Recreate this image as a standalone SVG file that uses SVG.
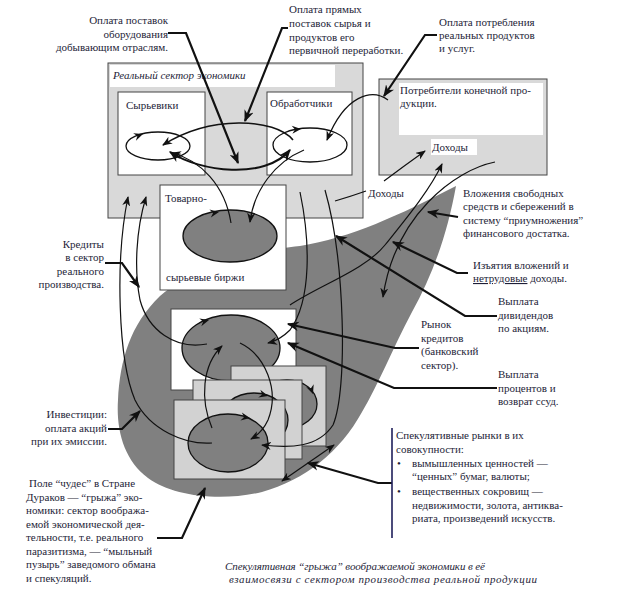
<svg xmlns="http://www.w3.org/2000/svg" width="620" height="594" viewBox="0 0 620 594">
<style>
text{font-family:"Liberation Serif","Times New Roman",serif;font-size:11px;fill:#1e1e38}
.it{font-style:italic}
.box{stroke:#444;stroke-width:1}
.lg{fill:#d9d9d9}
.wh{fill:#fff}
.st{fill:#d2d2d2}
.el{fill:#808080;stroke:#111;stroke-width:1.3}
.elw{fill:#fff;stroke:#111;stroke-width:1.3}
.fl{fill:none;stroke:#111;stroke-width:1.2}
.th{fill:none;stroke:#111;stroke-width:2}
.pt{fill:none;stroke:#111;stroke-width:2.2}
</style>
<defs>
<marker id="a" viewBox="0 0 10 8" refX="9" refY="4" markerWidth="10" markerHeight="8" markerUnits="userSpaceOnUse" orient="auto-start-reverse">
<path d="M0,0 L10,4 L0,8 L3,4 Z" fill="#111"/>
</marker>
<marker id="ab" viewBox="0 0 10 8" refX="9" refY="4" markerWidth="12" markerHeight="10" markerUnits="userSpaceOnUse" orient="auto-start-reverse">
<path d="M0,0 L10,4 L0,8 L3,4 Z" fill="#111"/>
</marker>
<path id="ah" d="M0,0 L-9,-4 L-6,0 L-9,4 Z" fill="#111"/>
</defs>

<g id="hernia">
<path d="M456,186 C447,236 432,276 412,312 C392,350 378,385 362,412 C340,452 305,480 262,492 C220,502 172,496 148,478 C124,460 116,430 118,400 C120,360 130,325 160,296 C200,262 260,250 300,246 C350,238 400,215 456,186 Z" fill="#808080"/>
</g>

<g id="real-sector">
<rect class="box lg" x="108" y="63" width="255" height="155"/>
<rect class="wh" x="110" y="65" width="225" height="22"/>
<text class="it" x="113" y="79">Реальный сектор экономики</text>
</g>

<g id="raw">
<rect class="box wh" x="118" y="92" width="87" height="83"/>
<text x="126" y="109">Сырьевики</text>
<ellipse class="elw" cx="158" cy="146" rx="32" ry="14"/>
<use href="#ah" transform="translate(143,134) rotate(-20)"/>
</g>

<g id="processors">
<rect class="box wh" x="267" y="92" width="85" height="83"/>
<text x="270" y="107">Обработчики</text>
<ellipse class="elw" cx="310" cy="145" rx="37" ry="17"/>
<use href="#ah" transform="translate(301,129) rotate(-5)"/>
</g>

<g id="consumers">
<rect class="box lg" x="379" y="79" width="168" height="96"/>
<rect class="wh" x="399" y="83" width="144" height="52"/>
<text x="400" y="94">Потребители конечной про-</text>
<text x="400" y="107">дукции.</text>
<rect class="wh" x="431" y="139" width="46" height="16"/>
<text x="432" y="151">Доходы</text>
</g>

<g id="exchange">
<rect class="box wh" x="160" y="185" width="126" height="105"/>
<text x="165" y="202">Товарно-</text>
<text x="166" y="281">сырьевые биржи</text>
<ellipse class="el" cx="230" cy="236" rx="47" ry="26"/>
<use href="#ah" transform="translate(219,212) rotate(-10)"/>
</g>

<g id="credit-market">
<rect class="box wh" x="171" y="309" width="125" height="81"/>
<ellipse class="el" cx="231" cy="348" rx="49" ry="33"/>
<use href="#ah" transform="translate(209,320) rotate(-15)"/>
</g>

<g id="speculative-stack">
<rect class="box st" x="231" y="366" width="95" height="80"/>
<ellipse class="el" cx="287" cy="404" rx="30" ry="24"/>
<use href="#ah" transform="translate(313,394) rotate(70)"/>
<rect class="box st" x="193" y="380" width="109" height="79"/>
<ellipse class="el" cx="254" cy="420" rx="34" ry="27"/>
<use href="#ah" transform="translate(268,396) rotate(15)"/>
<rect class="box st" x="174" y="400" width="111" height="79"/>
<ellipse class="el" cx="228" cy="443" rx="40" ry="29"/>
<use href="#ah" transform="translate(250,418) rotate(10)"/>
</g>

<g id="connectors">
<path class="fl" style="stroke-width:1.6" d="M293,140 C275,118 210,115 163,145" marker-end="url(#a)"/>
<path class="th" d="M170,152 C200,172 265,180 290,150" marker-start="url(#ab)" marker-end="url(#ab)"/>
<path class="fl" d="M231,223 C225,185 200,160 172,153" marker-end="url(#a)"/>
<path class="fl" d="M304,150 C275,162 254,190 250,222" marker-end="url(#a)"/>
<path class="fl" d="M388,100 C372,88 345,95 327,140" marker-end="url(#a)"/>
<path class="fl" d="M335,201 Q352,196 366,191"/>
<path class="fl" d="M384,181 Q404,166 425,151" marker-end="url(#a)"/>
<path class="fl" d="M495,162 C455,170 395,215 383,297" marker-end="url(#a)"/>
<path class="fl" d="M290,305 C320,285 365,270 385,245 C405,220 430,190 442,164" marker-end="url(#a)"/>
<path class="fl" d="M207,344 C175,350 148,330 140,300 C134,270 136,230 146,197" marker-end="url(#a)"/>
<path class="fl" d="M212,443 C185,445 150,430 135,400 C118,360 115,260 128,197" marker-end="url(#a)"/>
<path class="fl" d="M300,192 C310,240 312,300 290,330 Q280,340 268,343" marker-end="url(#a)"/>
<path class="fl" d="M325,190 C345,260 348,390 333,425 C318,448 290,448 262,445" marker-end="url(#a)"/>
<path class="fl" d="M240,343 C265,355 280,390 268,420 Q262,433 251,439" marker-end="url(#a)"/>
<path class="fl" d="M212,428 C200,400 202,365 222,346" marker-end="url(#a)"/>
<path class="fl" d="M282,481 L334,445" marker-start="url(#a)" marker-end="url(#a)"/>
<path class="pt" d="M168,33 L186,33 L238,163" marker-end="url(#ab)"/>
<path class="pt" d="M288,28 L282,28 L245,121" marker-end="url(#ab)"/>
<path class="pt" d="M437,35 L425,35 L384,96" marker-end="url(#ab)"/>
<path class="pt" d="M458,217 L428,212" marker-end="url(#ab)"/>
<path class="pt" d="M468,273 L457,273 L393,242" marker-end="url(#ab)"/>
<path class="pt" d="M497,316 L465,316 L336,236" marker-end="url(#ab)"/>
<path class="pt" d="M419,348 L395,348 L288,324" marker-end="url(#ab)"/>
<path class="pt" d="M497,388 L394,388 L288,343" marker-end="url(#ab)"/>
<path class="pt" d="M105,263 L122,263 L139,287" marker-end="url(#ab)"/>
<path class="pt" d="M108,429 L122,429 L140,411" marker-end="url(#ab)"/>
<path class="pt" d="M157,538 L182,538 L205,488" marker-end="url(#ab)"/>
<path class="pt" d="M392,483 L378,483 L308,463" marker-end="url(#ab)"/>
</g>

<g id="label-equipment">
<text x="168" y="24" text-anchor="end">Оплата поставок</text>
<text x="168" y="37.5" text-anchor="end">оборудования</text>
<text x="168" y="51" text-anchor="end">добывающим отраслям.</text>
</g>
<g id="label-raw-payment">
<text x="289" y="13">Оплата прямых</text>
<text x="289" y="27">поставок сырья и</text>
<text x="289" y="41">продуктов его</text>
<text x="289" y="54">первичной переработки.</text>
</g>
<g id="label-consumption">
<text x="439" y="26">Оплата потребления</text>
<text x="439" y="39">реальных продуктов</text>
<text x="439" y="52">и услуг.</text>
</g>
<g id="label-income">
<text x="368" y="197">Доходы</text>
</g>
<g id="label-investment-free">
<text x="463" y="197">Вложения свободных</text>
<text x="463" y="210">средств и сбережений в</text>
<text x="463" y="223.5">систему “приумножения”</text>
<text x="463" y="237">финансового достатка.</text>
</g>
<g id="label-withdrawal">
<text x="473" y="269">Изъятия вложений и</text>
<text x="473" y="282"><tspan text-decoration="underline">нетрудовые</tspan> доходы.</text>
</g>
<g id="label-dividends">
<text x="498" y="305">Выплата</text>
<text x="498" y="319">дивидендов</text>
<text x="498" y="332">по акциям.</text>
</g>
<g id="label-credit-market">
<text x="421" y="328">Рынок</text>
<text x="421" y="341.5">кредитов</text>
<text x="421" y="355">(банковский</text>
<text x="421" y="368.5">сектор).</text>
</g>
<g id="label-interest">
<text x="498" y="378">Выплата</text>
<text x="498" y="392">процентов и</text>
<text x="498" y="405">возврат ссуд.</text>
</g>
<g id="label-credits">
<text x="104" y="248" text-anchor="end">Кредиты</text>
<text x="104" y="261" text-anchor="end">в сектор</text>
<text x="104" y="275" text-anchor="end">реального</text>
<text x="104" y="288" text-anchor="end">производства.</text>
</g>
<g id="label-investments">
<text x="107" y="418" text-anchor="end">Инвестиции:</text>
<text x="107" y="431.5" text-anchor="end">оплата акций</text>
<text x="107" y="445" text-anchor="end">при их эмиссии.</text>
</g>
<g id="label-field">
<text x="29" y="487">Поле “чудес” в Стране</text>
<text x="26" y="500.5">Дураков — “грыжа” эко-</text>
<text x="26" y="514">номики: сектор вообража-</text>
<text x="26" y="527.5">емой экономической дея-</text>
<text x="26" y="541">тельности, т.е. реального</text>
<text x="26" y="554.5">паразитизма, — “мыльный</text>
<text x="26" y="568">пузырь” заведомого обмана</text>
<text x="26" y="581.5">и спекуляций.</text>
</g>
<g id="speculative-markets">
<line x1="392" y1="428" x2="392" y2="538" stroke="#1f1f5a" stroke-width="1.6"/>
<text x="396" y="439">Спекулятивные рынки в их</text>
<text x="396" y="453">совокупности:</text>
<text x="397" y="467">•</text>
<text x="412" y="467">вымышленных ценностей —</text>
<text x="412" y="480">“ценных” бумаг, валюты;</text>
<text x="397" y="495">•</text>
<text x="412" y="495">вещественных сокровищ —</text>
<text x="412" y="509">недвижимости, золота, антиква-</text>
<text x="412" y="522">риата, произведений искусств.</text>
</g>
<g id="caption">
<text class="it" x="225" y="570" textLength="260" lengthAdjust="spacing">Спекулятивная “грыжа” воображаемой экономики в её</text>
<text class="it" x="229" y="583" textLength="308" lengthAdjust="spacing">взаимосвязи с сектором производства реальной продукции</text>
</g>
</svg>
